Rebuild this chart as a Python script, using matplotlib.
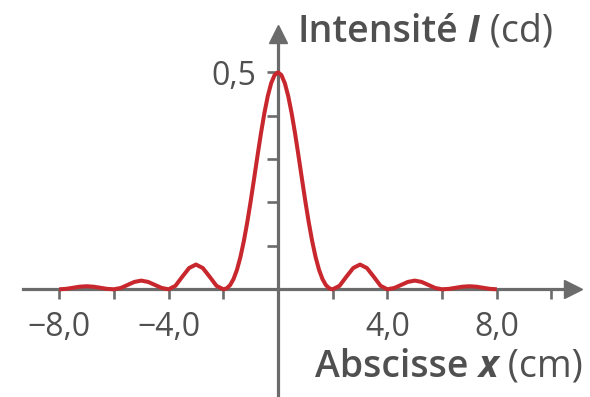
import matplotlib
matplotlib.use('Agg')
import matplotlib.pyplot as plt

# intensity profile (x in cm, I in cd)
x_cm = [-8.0, -7.75, -7.5, -7.25, -7.0, -6.75, -6.5, -6.25,
        -6.0, -5.75, -5.5, -5.25, -5.0, -4.75, -4.5, -4.25,
        -4.0, -3.75, -3.5, -3.25, -3.0, -2.75, -2.5, -2.25,
        -2.0, -1.875, -1.75, -1.625, -1.5, -1.375, -1.25, -1.125,
        -1.0, -0.875, -0.75, -0.625, -0.5, -0.375, -0.25, -0.125,
        0.0, 0.125, 0.25, 0.375, 0.5, 0.625, 0.75, 0.875,
        1.0, 1.125, 1.25, 1.375, 1.5, 1.625, 1.75, 1.875,
        2.0, 2.25, 2.5, 2.75, 3.0, 3.25, 3.5, 3.75,
        4.0, 4.25, 4.5, 4.75, 5.0, 5.25, 5.5, 5.75,
        6.0, 6.25, 6.5, 6.75, 7.0, 7.25, 7.5, 7.75, 8.0]
intensity = [0.000, 0.001, 0.0035, 0.006, 0.007, 0.006, 0.0035, 0.001,
             0.000, 0.003, 0.010, 0.017, 0.020, 0.017, 0.010, 0.003,
             0.000, 0.008, 0.029, 0.049, 0.057, 0.049, 0.029, 0.008,
             0.000, 0.0022, 0.0097, 0.0237, 0.0450, 0.0741, 0.1108, 0.1540,
             0.2026, 0.2546, 0.3075, 0.3587, 0.4053, 0.4448, 0.4749, 0.4936,
             0.5000, 0.4936, 0.4749, 0.4448, 0.4053, 0.3587, 0.3075, 0.2546,
             0.2026, 0.1540, 0.1108, 0.0741, 0.0450, 0.0237, 0.0097, 0.0022,
             0.000, 0.008, 0.029, 0.049, 0.057, 0.049, 0.029, 0.008,
             0.000, 0.003, 0.010, 0.017, 0.020, 0.017, 0.010, 0.003,
             0.000, 0.001, 0.0035, 0.006, 0.007, 0.006, 0.0035, 0.001, 0.000]

xticks = [-8, -6, -4, -2, 2, 4, 6, 8, 10]
xlabels = ['\u22128,0', '', '\u22124,0', '', '', '4,0', '', '8,0', '']
yticks = [0.1, 0.2, 0.3, 0.4, 0.5]
ylabels = ['', '', '', '', '0,5']

GRAY = '#6b6b6b'
TXT = '#505050'
RED = '#c8272d'
FONT = 'Open Sans'

plt.rcParams['font.family'] = [FONT, 'DejaVu Sans']

fig = plt.figure(figsize=(5.9, 3.97), dpi=100)
ax = fig.add_axes([0, 0, 1, 1])
ax.set_xlim(-10.165, 11.408)
ax.set_ylim(-0.2482, 0.6666)
ax.patch.set_alpha(0)

for s in ['top', 'right']:
    ax.spines[s].set_visible(False)
ax.spines['left'].set_position(('data', 0))
ax.spines['bottom'].set_position(('data', 0))
ax.spines['bottom'].set_bounds(-9.32, 10.75)
ax.spines['left'].set_bounds(-0.25, 0.58)
for s in ['left', 'bottom']:
    ax.spines[s].set_color(GRAY)
    ax.spines[s].set_linewidth(2.3)

# arrow heads
ax.plot([10.80], [0], marker='>', ms=13, color=GRAY, clip_on=False)
ax.plot([0], [0.589], marker='^', ms=13, color=GRAY, clip_on=False)

ax.set_xticks(xticks)
ax.set_xticklabels(xlabels)
ax.set_yticks(yticks)
ax.set_yticklabels(ylabels)
ax.tick_params(axis='x', direction='out', length=7.5, width=1.9, color=GRAY,
               pad=8, labelsize=23, labelcolor=TXT)
ax.tick_params(axis='y', direction='out', length=8, width=1.9, color=GRAY,
               pad=8, labelsize=23, labelcolor=TXT)

ax.plot(x_cm, intensity, color=RED, lw=2.9, solid_joinstyle='round',
        solid_capstyle='butt', zorder=3)


def title(x, y, parts):
    t = ax.text(x, y, parts[0][0], transform=ax.transAxes, fontsize=27,
                color=TXT, weight=parts[0][1], style=parts[0][2],
                ha='left', va='baseline')
    for txt, w, st in parts[1:]:
        t = ax.annotate(txt, xy=(1, 0), xycoords=t, fontsize=27, color=TXT,
                        weight=w, style=st, ha='left', va='bottom')


title(0.5034, 0.895, [('Intensité', 'semibold', 'normal'),
                      (' I', 'bold', 'italic'),
                      (' (cd)', 'normal', 'normal')])
title(0.534, 0.0511, [('Abscisse', 'semibold', 'normal'),
                      (' x', 'bold', 'italic'),
                      (' (cm)', 'normal', 'normal')])

fig.savefig('out.png', dpi=100)
